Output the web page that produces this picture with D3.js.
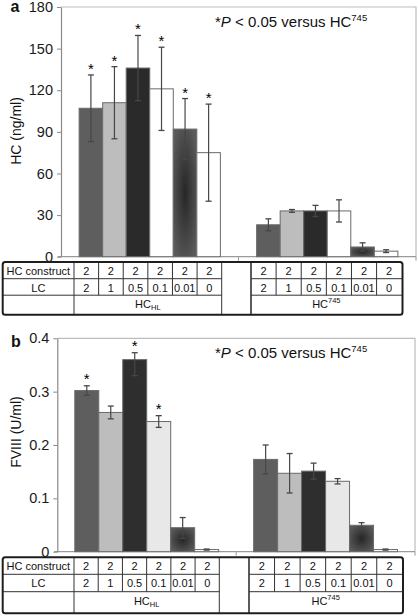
<!DOCTYPE html>
<html><head><meta charset="utf-8">
<script src="https://cdn.jsdelivr.net/npm/d3@7"></script>
<style>body{margin:0;background:#fff}svg{display:block;font-family:"Liberation Sans",Arial,sans-serif}</style>
</head><body><svg id="c" width="418" height="616"></svg>
<script>
// ---------- data ----------
const groups = ["HC_HL", "HC745"];
const lcLevels = ["2", "1", "0.5", "0.1", "0.01", "0"];
const hcConstruct = ["2", "2", "2", "2", "2", "2"];

// Panel a: HC (ng/ml)
const hcA_HL = [107, 111, 136, 121, 92, 75];
const hcA_HL_err = [24, 26, 23.5, 30, 22, 35];
const hcA_745 = [23, 33, 33, 33, 7, 4];
const hcA_745_err = [4.3, 1, 4, 8, 3, 1];
const sigA_HL = [1, 1, 1, 1, 1, 1];
const sigA_745 = [0, 0, 0, 0, 0, 0];
const ticksA = [0, 30, 60, 90, 120, 150, 180];

// Panel b: FVIII (U/ml)
const fvB_HL = [0.302, 0.261, 0.36, 0.244, 0.045, 0.004];
const fvB_HL_errUp = [0.009, 0.012, 0.013, 0.011, 0.019, 0.001];
const fvB_HL_errDn = [0.009, 0.012, 0.030, 0.011, 0.020, 0.001];
const fvB_745 = [0.173, 0.147, 0.151, 0.132, 0.0495, 0.004];
const fvB_745_err = [0.027, 0.037, 0.015, 0.005, 0.005, 0.001];
const sigB_HL = [1, 0, 1, 1, 0, 0];
const sigB_745 = [0, 0, 0, 0, 0, 0];
const ticksB = [0, 0.1, 0.2, 0.3, 0.4];

// ---------- drawing ----------
const svg = d3.select("#c");
const defs = svg.append("defs");
const rg = defs.append("radialGradient").attr("id", "g5").attr("cx", "50%").attr("cy", "50%").attr("r", "60%");
rg.append("stop").attr("offset", "0%").attr("stop-color", "#262626");
rg.append("stop").attr("offset", "100%").attr("stop-color", "#5a5a5a");

function panel(cfg) {
  const g = svg.append("g");
  const y = d3.scaleLinear().domain(cfg.domain).range([cfg.yBot, cfg.yTop]);
  const x0 = d3.scaleBand().domain(groups).range([cfg.x0, cfg.x1]);
  const x1 = d3.scaleBand().domain(d3.range(6)).range([0, x0.bandwidth()]).paddingOuter(cfg.pad);

  // frame (top & right)
  g.append("path").attr("d", `M${cfg.x0},${cfg.yTop}H${cfg.x1}V${cfg.yBot}`)
    .attr("fill", "none").attr("stroke", "#bdbdbd").attr("stroke-width", 1.2);

  // bottom axis line
  g.append("line").attr("x1", cfg.x0 - 3).attr("x2", cfg.x1).attr("y1", cfg.yBot).attr("y2", cfg.yBot)
    .attr("stroke", "#9a9a9a").attr("stroke-width", 1.2);
  [x0(groups[1]), cfg.x1].forEach(xx => g.append("line").attr("x1", xx).attr("x2", xx)
    .attr("y1", cfg.yBot).attr("y2", cfg.yBot + 4).attr("stroke", "#9a9a9a"));

  // bars
  cfg.series.forEach((s, gi) => {
    const gx = x0(groups[gi]);
    s.vals.forEach((v, i) => {
      const bx = gx + x1(i), bw = x1.bandwidth();
      g.append("rect").attr("x", bx).attr("y", y(v)).attr("width", bw).attr("height", y(0) - y(v))
        .attr("fill", cfg.colors[i]).attr("stroke", "#6a6a6a").attr("stroke-width", 1);
      const cx = bx + bw / 2;
      const yHi = y(v + s.up[i]), yLo = y(v - s.dn[i]);
      g.append("line").attr("x1", cx).attr("x2", cx).attr("y1", yHi).attr("y2", yLo)
        .attr("stroke", "#474747").attr("stroke-width", 1.2);
      [yHi, yLo].forEach(yy => g.append("line").attr("x1", cx - 3).attr("x2", cx + 3)
        .attr("y1", yy).attr("y2", yy).attr("stroke", "#474747").attr("stroke-width", 1.3));
      if (s.sig[i]) {
        g.append("text").attr("x", cx).attr("y", yHi + cfg.starDy).attr("text-anchor", "middle")
          .attr("font-size", 15).attr("fill", "#000").text("*");
      }
    });
  });

  // y axis
  const ax = g.append("g").attr("transform", `translate(${cfg.x0},0)`)
    .call(d3.axisLeft(y).tickValues(cfg.ticks).tickSize(4).tickSizeOuter(0).tickPadding(4).tickFormat(cfg.fmt));
  ax.select(".domain").attr("stroke", "#8a8a8a").attr("stroke-width", 1.2);
  ax.selectAll(".tick line").attr("stroke", "#8a8a8a");
  ax.selectAll(".tick text").attr("font-size", 14.5).attr("fill", "#1a1a1a")
    .attr("font-family", "'Liberation Sans',Arial,sans-serif");

  // y label
  g.append("text").attr("transform", `translate(${cfg.labX},${cfg.labY}) rotate(-90)`)
    .attr("text-anchor", "middle").attr("font-size", 14).attr("fill", "#111").text(cfg.ylabel);

  // panel letter
  g.append("text").attr("x", cfg.letX).attr("y", cfg.letY).attr("font-size", 16).attr("font-weight", "bold")
    .attr("fill", "#111").text(cfg.letter);

  // annotation
  const t = g.append("text").attr("x", 215).attr("y", cfg.annY).attr("font-size", 15).attr("fill", "#111");
  t.append("tspan").text("*");
  t.append("tspan").attr("font-style", "italic").text("P");
  t.append("tspan").text(" < 0.05 versus HC");
  t.append("tspan").attr("font-size", 9.5).attr("dy", -6).text("745");

  // table
  const tb = cfg.table;
  const tg = g.append("g");
  const rowsY = [tb.top];
  tb.rows.forEach(h => rowsY.push(rowsY[rowsY.length - 1] + h));
  const bottom = rowsY[3];
  const colsL = d3.range(7).map(i => tb.g1a + (tb.g1b - tb.g1a) * i / 6);
  const colsR = d3.range(7).map(i => tb.g2a + (tb.g2b - tb.g2a) * i / 6);
  function ln(xa, ya, xb, yb, w) {
    tg.append("line").attr("x1", xa).attr("y1", ya).attr("x2", xb).attr("y2", yb)
      .attr("stroke", "#333").attr("stroke-width", w || 1);
  }
  [rowsY[1], rowsY[2]].forEach(yy => { ln(tb.left, yy, tb.g1b, yy); ln(tb.g2a, yy, tb.right, yy); });
  ln(tb.g1a, tb.top, tb.g1a, bottom);
  colsL.slice(1, 6).forEach(xx => ln(xx, tb.top, xx, rowsY[2]));
  ln(tb.g1b, tb.top, tb.g1b, bottom);
  ln(tb.g2a, tb.top, tb.g2a, bottom, 1.6);
  colsR.slice(1, 6).forEach(xx => ln(xx, tb.top, xx, rowsY[2]));
  tg.append("rect").attr("x", tb.left).attr("y", tb.top).attr("width", tb.right - tb.left).attr("height", bottom - tb.top)
    .attr("rx", 2.5).attr("fill", "none").attr("stroke", "#1e1e1e").attr("stroke-width", 2);

  function txt(xx, yy, s) {
    return tg.append("text").attr("x", xx).attr("y", yy).attr("text-anchor", "middle")
      .attr("font-size", 11).attr("fill", "#111").text(s);
  }
  const bl = 12.8;
  txt((tb.left + tb.g1a) / 2, rowsY[0] + bl, "HC construct");
  txt((tb.left + tb.g1a) / 2, rowsY[1] + bl, "LC");
  [colsL, colsR].forEach(cols => {
    hcConstruct.forEach((v, i) => txt((cols[i] + cols[i + 1]) / 2, rowsY[0] + bl, v));
    lcLevels.forEach((v, i) => txt((cols[i] + cols[i + 1]) / 2, rowsY[1] + bl, v));
  });
  const t1 = txt((tb.g1a + tb.g1b) / 2, rowsY[2] + bl, "HC");
  t1.append("tspan").attr("font-size", 7.5).attr("dy", 2).text("HL");
  const t2 = txt((tb.g2a + tb.g2b) / 2, rowsY[2] + bl, "HC");
  t2.append("tspan").attr("font-size", 7.5).attr("dy", -5).text("745");
}

panel({
  x0: 61, x1: 416, yTop: 7, yBot: 256.7, domain: [0, 180], ticks: ticksA, pad: 0.77,
  fmt: d3.format("d"), starDy: -1,
  colors: ["#5e5e5e", "#bdbdbd", "#2a2a2a", "#ffffff", "url(#g5)", "#ffffff"],
  series: [
    { vals: hcA_HL, up: hcA_HL_err, dn: hcA_HL_err, sig: sigA_HL },
    { vals: hcA_745, up: hcA_745_err, dn: hcA_745_err, sig: sigA_745 }
  ],
  ylabel: "HC (ng/ml)", labX: 21, labY: 131, letter: "a", letX: 10.5, letY: 12, annY: 27,
  table: { top: 262, rows: [16.7, 16.5, 19.5], left: 2.7, g1a: 74, g1b: 221.7, g2a: 251, g2b: 401.7, right: 402.5 }
});

panel({
  x0: 57.3, x1: 415, yTop: 338.3, yBot: 551.7, domain: [0, 0.4], ticks: ticksB, pad: 0.73,
  fmt: d => d === 0 ? "0" : d3.format(".1f")(d), starDy: -2,
  colors: ["#5e5e5e", "#bdbdbd", "#2e2e2e", "#e8e8e8", "url(#g5)", "#ffffff"],
  series: [
    { vals: fvB_HL, up: fvB_HL_errUp, dn: fvB_HL_errDn, sig: sigB_HL },
    { vals: fvB_745, up: fvB_745_err, dn: fvB_745_err, sig: sigB_745 }
  ],
  ylabel: "FVIII (U/ml)", labX: 21, labY: 432, letter: "b", letX: 11, letY: 347, annY: 357.5,
  table: { top: 557.3, rows: [17, 17.4, 21.6], left: 2.7, g1a: 74, g1b: 219.3, g2a: 249, g2b: 402.3, right: 403 }
});
</script></body></html>
